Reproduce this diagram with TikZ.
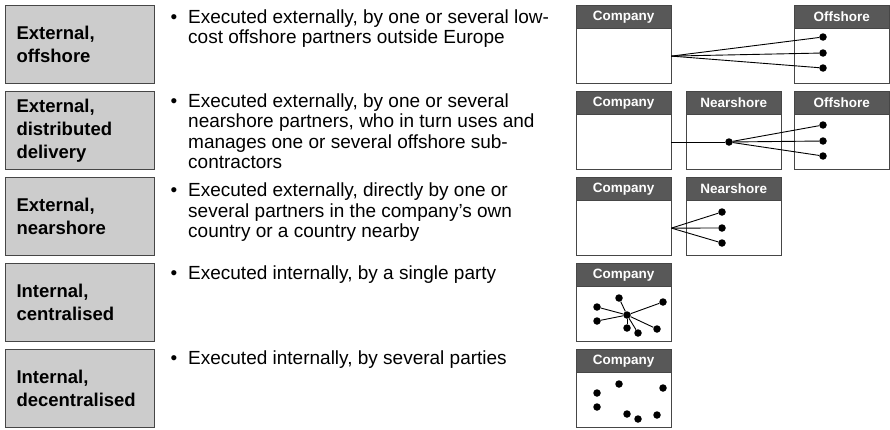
\documentclass[tikz,border=0pt]{standalone}
\usepackage{fontspec}
\setmainfont{Liberation Sans}
\definecolor{boxgray}{RGB}{204,204,204}
\definecolor{headgray}{RGB}{88,88,88}
\definecolor{edgegray}{RGB}{70,70,70}

\begin{document}
\begin{tikzpicture}[x=1pt, y=-1pt,
	kind/.style={draw=edgegray, fill=boxgray, line width=1pt, anchor=north west, text width=127pt, inner xsep=11pt, inner ysep=0pt, minimum height=78pt, align=left, font=\bfseries\fontsize{18.5}{23}\selectfont},
	desc/.style={anchor=north west, inner sep=0pt, align=left, font=\fontsize{19}{20.5}\selectfont},
	head/.style={draw=edgegray, fill=headgray, text=white, anchor=north west, inner sep=0pt, minimum width=95pt, minimum height=23pt, font=\bfseries\fontsize{13.5}{16}\selectfont},
	body/.style={draw=edgegray, fill=white, anchor=north, inner sep=0pt, minimum width=95pt, minimum height=55pt},
	dot/.style={circle, fill=black, inner sep=0pt, minimum size=7.5pt},
	link/.style={line width=0.9pt}]
	\useasboundingbox (0,0) rectangle (890,429);
	% sourcing models
	\node[kind] (k1) at (5,5) {External,\\offshore};
	\node[kind] (k2) at (5,91) {External,\\distributed\\delivery};
	\node[kind] (k3) at (5,177) {External,\\nearshore};
	\node[kind] (k4) at (5,263) {Internal,\\centralised};
	\node[kind] (k5) at (5,349) {Internal,\\decentralised};
	% descriptions
	\node[desc] (t1) at (188,9.4) {\llap{\textbullet\hspace{11pt}}Executed externally, by one or several low-\\cost offshore partners outside Europe};
	\node[desc] (t2) at (188,93.4) {\llap{\textbullet\hspace{11pt}}Executed externally, by one or several\\nearshore partners, who in turn uses and\\manages one or several offshore sub-\\contractors};
	\node[desc] (t3) at (188,183) {\llap{\textbullet\hspace{11pt}}Executed externally, directly by one or\\several partners in the company’s own\\country or a country nearby};
	\node[desc] (t4) at (188,265.4) {\llap{\textbullet\hspace{11pt}}Executed internally, by a single party};
	\node[desc] (t5) at (188,350.4) {\llap{\textbullet\hspace{11pt}}Executed internally, by several parties};
	% parties
	\node[head] (c1h) at (576,5) {Company};   \node[body] (c1) at (c1h.south) {};
	\node[head] (o1h) at (794,5) {Offshore};  \node[body] (o1) at (o1h.south) {};
	\node[head] (c2h) at (576,91) {Company};  \node[body] (c2) at (c2h.south) {};
	\node[head] (n2h) at (686,91) {Nearshore}; \node[body] (n2) at (n2h.south) {};
	\node[head] (o2h) at (794,91) {Offshore}; \node[body] (o2) at (o2h.south) {};
	\node[head] (c3h) at (576,177) {Company}; \node[body] (c3) at (c3h.south) {};
	\node[head] (n3h) at (686,177) {Nearshore}; \node[body] (n3) at (n3h.south) {};
	\node[head] (c4h) at (576,263) {Company}; \node[body] (c4) at (c4h.south) {};
	\node[head] (c5h) at (576,349) {Company}; \node[body] (c5) at (c5h.south) {};
	% offshore
	\node[dot] (p1a) at (823,37) {};
	\node[dot] (p1b) at (823,53) {};
	\node[dot] (p1c) at (823,68) {};
	\foreach \p in {p1a,p1b,p1c} \draw[link] (c1.east) -- (\p);
	% distributed delivery
	\node[dot] (hub2) at (729,142) {};
	\node[dot] (p2a) at (823,125) {};
	\node[dot] (p2b) at (823,141) {};
	\node[dot] (p2c) at (823,156) {};
	\draw[link] (c2.east |- hub2) -- (hub2);
	\foreach \p in {p2a,p2b,p2c} \draw[link] (hub2) -- (\p);
	% nearshore
	\node[dot] (p3a) at (722,212) {};
	\node[dot] (p3b) at (722,228) {};
	\node[dot] (p3c) at (722,243) {};
	\foreach \p in {p3a,p3b,p3c} \draw[link] (c3.east) -- (\p);
	% internal parties
	\foreach \n/\x/\y in {a/597/44, b/597/58, c/619/35, d/663/39, e/627/65, f/638/70, g/657/66} {
		\node[dot] (s\n) at (\x,263+\y) {};
		\node[dot] (u\n) at (\x,349+\y) {};
	}
	\node[dot] (hub4) at (627,315) {};
	\foreach \n in {a,b,c,d,e,f,g} \draw[link] (hub4) -- (s\n);
\end{tikzpicture}
\end{document}
